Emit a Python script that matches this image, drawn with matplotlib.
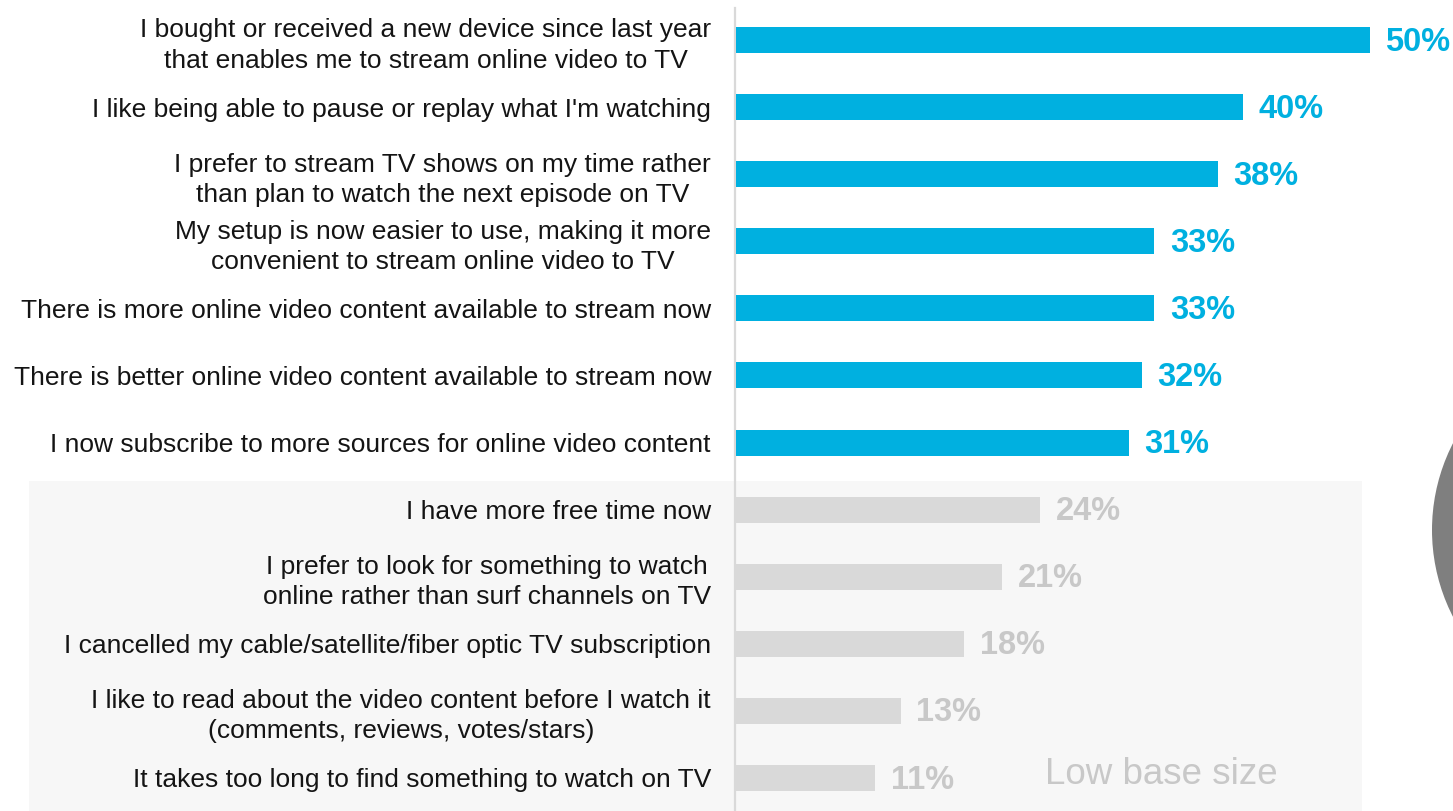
import matplotlib
matplotlib.use("Agg")
import matplotlib.pyplot as plt
from matplotlib.patches import Rectangle, Circle

plt.rcParams['font.family'] = ['Liberation Sans', 'DejaVu Sans']

categories = [
    "I bought or received a new device since last year\nthat enables me to stream online video to TV",
    "I like being able to pause or replay what I'm watching",
    "I prefer to stream TV shows on my time rather\nthan plan to watch the next episode on TV",
    "My setup is now easier to use, making it more\nconvenient to stream online video to TV",
    "There is more online video content available to stream now",
    "There is better online video content available to stream now",
    "I now subscribe to more sources for online video content",
    "I have more free time now",
    "I prefer to look for something to watch\nonline rather than surf channels on TV",
    "I cancelled my cable/satellite/fiber optic TV subscription",
    "I like to read about the video content before I watch it\n(comments, reviews, votes/stars)",
    "It takes too long to find something to watch on TV",
]
values = [50, 40, 38, 33, 33, 32, 31, 24, 21, 18, 13, 11]
highlighted = [True] * 7 + [False] * 5

BLUE = "#00B0E0"
GREY_BAR = "#D9D9D9"
GREY_TXT = "#C8C8C8"

W, H = 1453, 811
fig = plt.figure(figsize=(W / 100, H / 100), dpi=100)

# background layer in pixel coordinates
bg = fig.add_axes([0, 0, 1, 1], zorder=0)
bg.set_xlim(0, W)
bg.set_ylim(H, 0)
bg.axis("off")
bg.add_patch(Rectangle((29, 481), 1362 - 29, H - 481, facecolor="#F7F7F7", edgecolor="none"))
bg.add_patch(Circle((1622, 530), 190, facecolor="#7F7F7F", edgecolor="none"))
bg.plot([735, 735], [8, H], color="#D9D9D9", lw=1.6)
bg.text(1045, 775, "Low base size", fontsize=26.5, color=GREY_TXT, ha="left", va="center")

ax = fig.add_axes([736 / W, 0, (W - 736) / W, 1], zorder=1)
ax.patch.set_alpha(0)
n = len(values)
ypos = list(range(n))
step = (778 - 40) / (n - 1)
colors = [BLUE if h else GREY_BAR for h in highlighted]
ax.barh(ypos, values, height=26 / step, color=colors, edgecolor="none")
ax.set_xlim(0, (W - 736) / 12.68)
ax.set_ylim((H - 40) / step, -40 / step)
ax.set_yticks(ypos)
ax.set_yticklabels(categories, fontsize=19, color="#141414", multialignment="center", linespacing=1.32)
ax.tick_params(axis="y", length=0, pad=18)
ax.set_xticks([])
for s in ax.spines.values():
    s.set_visible(False)

for y, v, h in zip(ypos, values, highlighted):
    ax.annotate(f"{v}%", xy=(v, y), xytext=(11, -1.5), textcoords="offset points",
                ha="left", va="center", fontsize=23.5, fontweight="bold",
                color=BLUE if h else GREY_TXT)

fig.savefig("out.png", dpi=100)
